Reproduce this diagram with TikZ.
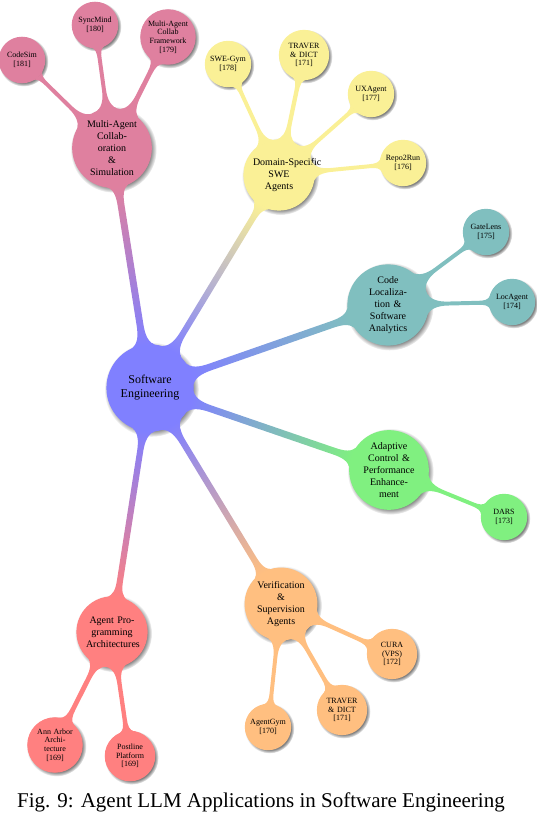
\documentclass[tikz,border=0pt]{standalone}
\usepackage{fontspec}
\setmainfont{Liberation Serif}
\usetikzlibrary{mindmap,shadows}
\definecolor{rootblue}{HTML}{8080FF}
\definecolor{collabpink}{HTML}{DF809F}
\definecolor{domainyellow}{HTML}{FAF096}
\definecolor{locteal}{HTML}{80BFBF}
\definecolor{adaptgreen}{HTML}{80F080}
\definecolor{verifyorange}{HTML}{FFBF80}
\definecolor{progred}{HTML}{FF8080}
\tikzset{
  hub/.style={concept, concept color=rootblue, text=black, minimum size=86pt, text width=60pt,
    inner sep=1pt, font=\fontsize{12}{14}\selectfont, circular drop shadow},
  branch/.style={concept, text=black, minimum size=70pt, text width=52pt,
    inner sep=1pt, font=\fontsize{10}{12}\selectfont, circular drop shadow},
  leaf/.style={concept, text=black, minimum size=42pt, text width=40pt,
    inner sep=1pt, font=\fontsize{8}{8.7}\selectfont, circular drop shadow},
}
\begin{document}
\begin{tikzpicture}[x=1pt, y=1pt]
  \useasboundingbox (0,0) rectangle (536,822);
  \begin{scope}[mindmap]
  \node[hub] (root) at (150,434) {Software\\Engineering};
  \node[branch, concept color=collabpink] (collab) at (112,674) {Multi-Agent\\Collab-\\oration\\\&\\Simulation};
  \node[branch, concept color=domainyellow] (domain) at (279,647) {\mbox{Domain-Specific}\\SWE\\Agents};
  \node[branch, concept color=locteal] (codeloc) at (388,517) {Code\\Localiza-\\tion \&\\Software\\Analytics};
  \node[branch, concept color=adaptgreen] (adaptive) at (389,352) {Adaptive\\Control \&\\Performance\\Enhance-\\ment};
  \node[branch, concept color=verifyorange] (verify) at (281,218) {Verification\\\&\\Supervision\\Agents};
  \node[branch, concept color=progred] (progarch) at (112,190) {Agent Pro-\\gramming\\Architectures};

  \foreach \n/\x/\y/\col/\t in {
    codesim/22/762/collabpink/{CodeSim\\{[181]}},
    syncmind/95/797/collabpink/{SyncMind\\{[180]}},
    collabfw/168/785/collabpink/{Multi-Agent\\Collab\\Framework\\{[179]}},
    swegym/228/758/domainyellow/{SWE-Gym\\{[178]}},
    traverA/304/767/domainyellow/{TRAVER\\\& DICT\\{[171]}},
    uxagent/371/728/domainyellow/{UXAgent\\{[177]}},
    repotorun/403/659/domainyellow/{Repo2Run\\{[176]}},
    gatelens/486/590/locteal/{GateLens\\{[175]}},
    locagent/512/520/locteal/{LocAgent\\{[174]}},
    dars/504/305/adaptgreen/{DARS\\{[173]}},
    cura/392/168/verifyorange/{CURA\\(VPS)\\{[172]}},
    traverB/342/112/verifyorange/{TRAVER\\\& DICT\\{[171]}},
    agentgym/268/95/verifyorange/{AgentGym\\{[170]}},
    annarbor/55/77/progred/{Ann Arbor\\Archi-\\tecture\\{[169]}},
    postline/130/66/progred/{Postline\\Platform\\{[169]}}
  }{
    \node[leaf, concept color=\col] (\n) at (\x,\y) {\t};
  }

  \foreach \b/\col in {collab/collabpink, domain/domainyellow, codeloc/locteal,
    adaptive/adaptgreen, verify/verifyorange, progarch/progred}{
    \path[line width=7pt] (root) to[circle connection bar switch color=from (rootblue) to (\col)] (\b);
  }
  \foreach \a/\b/\col in {collab/codesim/collabpink, collab/syncmind/collabpink, collab/collabfw/collabpink,
    domain/swegym/domainyellow, domain/traverA/domainyellow, domain/uxagent/domainyellow, domain/repotorun/domainyellow,
    codeloc/gatelens/locteal, codeloc/locagent/locteal, adaptive/dars/adaptgreen,
    verify/cura/verifyorange, verify/traverB/verifyorange, verify/agentgym/verifyorange,
    progarch/annarbor/progred, progarch/postline/progred}{
    \path[line width=4.5pt] (\a) to[circle connection bar switch color=from (\col) to (\col)] (\b);
  }
  \end{scope}

  \node (caption) at (261,20) {\fontsize{21}{25}\selectfont Fig. 9: Agent LLM Applications in Software Engineering};
\end{tikzpicture}
\end{document}
